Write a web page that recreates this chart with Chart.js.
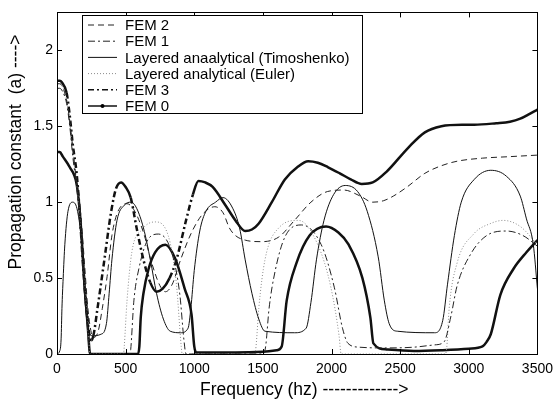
<!DOCTYPE html>
<html>
<head>
<meta charset="utf-8">
<script src="https://cdn.jsdelivr.net/npm/chart.js@4.4.1/dist/chart.umd.min.js"></script>
<style>
  html, body { margin: 0; padding: 0; background: #fff; }
  #graph-container { width: 560px; height: 402px; }
</style>
</head>
<body>
<div id="graph-container"><canvas id="graph" width="560" height="402"></canvas></div>
<script>
// values: frequency (hz) -> propagation constant
const fem2Freq = [0, 20, 45, 80, 110, 140, 175, 200, 225, 250, 270, 300, 330, 365, 400, 440, 510, 560, 630, 690, 750, 790, 840, 900, 980, 1060, 1150, 1210, 1256, 1300, 1371, 1490, 1615, 1730, 1850, 1970, 2090, 2210, 2300, 2380, 2450, 2550, 2680, 2800, 2916, 3100, 3300, 3500]
const fem2Val = [1.78, 1.78, 1.75, 1.62, 1.40, 1.15, 0.90, 0.60, 0.30, 0.14, 0.11, 0.15, 0.30, 0.51, 0.78, 0.93, 0.99, 0.95, 0.80, 0.60, 0.45, 0.41, 0.46, 0.62, 0.80, 0.92, 0.97, 0.93, 0.83, 0.78, 0.75, 0.74, 0.77, 0.88, 1.00, 1.07, 1.08, 1.04, 1.00, 1.01, 1.04, 1.10, 1.19, 1.24, 1.27, 1.29, 1.30, 1.31]

const fem1Freq = [0, 20, 40, 70, 93, 115, 143, 165, 187, 215, 235, 245, 530, 537, 560, 596, 667, 740, 835, 895, 925, 940, 1500, 1520, 1545, 1590, 1660, 1780, 1925, 2020, 2080, 2120, 2200, 2400, 2600, 2750, 2820, 2870, 2915, 3015, 3130, 3275, 3395, 3500]
const fem1Val = [1.75, 1.75, 1.73, 1.65, 1.50, 1.30, 1.10, 0.90, 0.60, 0.25, 0.03, 0, 0, 0.03, 0.35, 0.56, 0.76, 0.79, 0.67, 0.39, 0.09, 0, 0, 0.05, 0.30, 0.55, 0.77, 0.85, 0.72, 0.44, 0.17, 0.07, 0.045, 0.04, 0.045, 0.06, 0.08, 0.25, 0.45, 0.66, 0.78, 0.81, 0.78, 0.71]

const timoFreq = [0, 20, 30, 36, 45, 57, 80, 115, 150, 180, 200, 222, 260, 320, 360, 380, 400, 437, 490, 540, 580, 630, 680, 725, 775, 825, 900, 955, 975, 1000, 1040, 1085, 1155, 1210, 1280, 1330, 1371, 1420, 1470, 1515, 1730, 1815, 1850, 1890, 1945, 2015, 2100, 2190, 2260, 2340, 2385, 2420, 2480, 2750, 2810, 2845, 2895, 2945, 3040, 3160, 3275, 3375, 3420, 3470, 3500]
const timoVal = [0, 0.02, 0.10, 0.30, 0.50, 0.72, 0.94, 1.00, 0.94, 0.72, 0.40, 0.19, 0.12, 0.13, 0.20, 0.40, 0.62, 0.88, 0.98, 1.00, 0.96, 0.83, 0.62, 0.40, 0.23, 0.15, 0.14, 0.17, 0.30, 0.55, 0.81, 0.94, 1.00, 1.03, 0.96, 0.83, 0.62, 0.40, 0.23, 0.15, 0.14, 0.17, 0.34, 0.62, 0.88, 1.05, 1.11, 1.07, 0.94, 0.64, 0.35, 0.20, 0.15, 0.14, 0.22, 0.46, 0.78, 1.00, 1.15, 1.21, 1.17, 1.04, 0.89, 0.72, 0.43]

const eulerFreq = [0, 20, 40, 70, 93, 115, 143, 165, 187, 215, 232, 240, 485, 490, 510, 545, 620, 715, 810, 870, 905, 912, 1440, 1450, 1470, 1515, 1615, 1760, 1900, 1995, 2055, 2070, 2830, 2840, 2857, 2915, 3035, 3160, 3250, 3375, 3500]
const eulerVal = [1.78, 1.78, 1.76, 1.68, 1.53, 1.33, 1.12, 0.92, 0.62, 0.28, 0.08, 0, 0, 0.05, 0.35, 0.67, 0.82, 0.87, 0.78, 0.46, 0.05, 0, 0, 0.05, 0.30, 0.62, 0.83, 0.88, 0.72, 0.44, 0.12, 0, 0, 0.05, 0.30, 0.60, 0.79, 0.86, 0.88, 0.84, 0.72]

const fem3Freq = [0, 20, 35, 70, 93, 115, 143, 165, 187, 215, 237, 250, 265, 295, 345, 395, 430, 467, 500, 537, 580, 630, 680, 725, 770, 820, 870, 940, 990, 1030, 1080, 1134, 1227, 1300, 1371, 1420, 1470, 1565, 1660, 1750, 1830, 1900, 1975, 2060, 2140, 2220, 2300, 2400, 2560, 2680, 2800, 2950, 3040, 3200, 3300, 3375, 3440, 3500]
const fem3Val = [1.80, 1.80, 1.79, 1.72, 1.57, 1.38, 1.19, 0.94, 0.62, 0.30, 0.12, 0.09, 0.12, 0.30, 0.62, 0.94, 1.09, 1.13, 1.10, 1.03, 0.83, 0.62, 0.47, 0.41, 0.43, 0.50, 0.62, 0.88, 1.05, 1.14, 1.13, 1.10, 0.98, 0.88, 0.81, 0.82, 0.86, 1.00, 1.15, 1.23, 1.27, 1.26, 1.23, 1.19, 1.15, 1.12, 1.13, 1.20, 1.36, 1.46, 1.50, 1.51, 1.51, 1.52, 1.53, 1.55, 1.58, 1.61]

const fem0Freq = [0, 20, 43, 93, 143, 165, 180, 200, 225, 237, 245, 590, 600, 610, 630, 667, 715, 790, 860, 930, 980, 1000, 1015, 1300, 1500, 1600, 1637, 1673, 1745, 1840, 1960, 2050, 2125, 2225, 2283, 2305, 2400, 2600, 2800, 3000, 3100, 3130, 3160, 3230, 3325, 3420, 3500]
const fem0Val = [1.33, 1.33, 1.30, 1.23, 1.12, 0.95, 0.76, 0.46, 0.17, 0.02, 0, 0, 0.05, 0.24, 0.40, 0.56, 0.67, 0.72, 0.63, 0.43, 0.26, 0.05, 0.01, 0.01, 0.015, 0.025, 0.05, 0.35, 0.60, 0.78, 0.84, 0.80, 0.72, 0.50, 0.24, 0.07, 0.03, 0.02, 0.025, 0.035, 0.05, 0.08, 0.13, 0.39, 0.56, 0.67, 0.75]

const xTicks = [0, 500, 1000, 1500, 2000, 2500, 3000, 3500]
const yTicks = [0, 0.5, 1, 1.5, 2]

function toPoints(freq, vals) {
  return freq.map((f, i) => ({ x: f, y: vals[i] }))
}

Chart.defaults.font.family = '"Liberation Sans", Arial, sans-serif'
Chart.defaults.color = '#000'

// matlab style box with ticks pointing inwards
const frame = {
  id: 'frame',
  afterDatasetsDraw(chart) {
    const { ctx, chartArea: a, scales } = chart
    ctx.save()
    ctx.strokeStyle = '#000'
    ctx.lineWidth = 1
    ctx.beginPath()
    xTicks.forEach(v => {
      const px = Math.round(scales.x.getPixelForValue(v)) + 0.5
      ctx.moveTo(px, a.bottom); ctx.lineTo(px, a.bottom - 5)
      ctx.moveTo(px, a.top); ctx.lineTo(px, a.top + 5)
    })
    yTicks.forEach(v => {
      const py = Math.round(scales.y.getPixelForValue(v)) + 0.5
      ctx.moveTo(a.left, py); ctx.lineTo(a.left + 5, py)
      ctx.moveTo(a.right, py); ctx.lineTo(a.right - 5, py)
    })
    ctx.stroke()
    ctx.strokeRect(Math.round(a.left) + 0.5, Math.round(a.top) + 0.5, Math.round(a.right - a.left), Math.round(a.bottom - a.top))
    ctx.restore()
  },
  afterDraw(chart) {
    const ctx = chart.ctx
    // legend box
    const x0 = 82, y0 = 15, w = 280, h = 98
    ctx.save()
    ctx.fillStyle = '#fff'
    ctx.fillRect(x0, y0, w, h)
    ctx.strokeStyle = '#000'
    ctx.lineWidth = 1
    ctx.strokeRect(x0 + 0.5, y0 + 0.5, w, h)
    ctx.font = '15px "Liberation Sans", Arial, sans-serif'
    ctx.textBaseline = 'middle'
    chart.data.datasets.forEach((ds, i) => {
      const yy = y0 + 10 + i * 16.2
      ctx.strokeStyle = ds.borderColor
      ctx.lineWidth = ds.legendWidth || ds.borderWidth
      ctx.setLineDash(ds.borderDash || [])
      ctx.beginPath()
      ctx.moveTo(88, yy)
      ctx.lineTo(117, yy)
      ctx.stroke()
      ctx.setLineDash([])
      if (ds.legendDot) {
        ctx.fillStyle = '#000'
        ctx.beginPath()
        ctx.arc(102.5, yy, 2, 0, Math.PI * 2)
        ctx.fill()
      }
      ctx.fillStyle = '#000'
      ctx.fillText(ds.label, 125, yy + 1)
    })
    // axis titles
    ctx.font = '17.5px "Liberation Sans", Arial, sans-serif'
    ctx.textBaseline = 'alphabetic'
    ctx.textAlign = 'left'
    ctx.fillText('Frequency (hz) ------------->', 200, 395)
    ctx.translate(21, 152)
    ctx.rotate(-Math.PI / 2)
    ctx.textAlign = 'center'
    ctx.fillText('Propagation constant  (a) ---->', 0, 0)
    ctx.restore()
  }
}

const steepDash = ctx => Math.abs(ctx.p1.y - ctx.p0.y) > 2.5 * Math.abs(ctx.p1.x - ctx.p0.x) ? undefined : []

let graph_data = {
  type: 'line',
  data: {
    datasets: [
      { label: 'FEM 2', data: toPoints(fem2Freq, fem2Val), borderColor: '#222', borderWidth: 1, borderDash: [6, 4] },
      { label: 'FEM 1', data: toPoints(fem1Freq, fem1Val), borderColor: '#222', borderWidth: 1, borderDash: [7, 3, 2, 3] },
      { label: 'Layered anaalytical (Timoshenko)', data: toPoints(timoFreq, timoVal), borderColor: '#111', borderWidth: 1 },
      { label: 'Layered analytical (Euler)', data: toPoints(eulerFreq, eulerVal), borderColor: '#8c8c8c', borderWidth: 1, borderDash: [1, 2] },
      { label: 'FEM 3', data: toPoints(fem3Freq, fem3Val), borderColor: '#111', borderWidth: 2.5, legendWidth: 1.5, borderDash: [6, 3, 2, 3], segment: { borderDash: steepDash } },
      { label: 'FEM 0', data: toPoints(fem0Freq, fem0Val), borderColor: '#111', borderWidth: 2.5, legendWidth: 1.5, legendDot: true }
    ]
  },
  options: {
    responsive: false,
    animation: false,
    devicePixelRatio: 1,
    layout: { padding: { top: 5, right: 15, left: 0, bottom: 0 } },
    elements: {
      point: { radius: 0 },
      line: { cubicInterpolationMode: 'monotone', fill: false }
    },
    plugins: { legend: { display: false }, tooltip: { enabled: false } },
    scales: {
      x: {
        type: 'linear', min: 0, max: 3500,
        grid: { display: false, drawTicks: false },
        border: { display: false },
        afterFit: s => { s.height = 48 },
        afterBuildTicks: s => { s.ticks = xTicks.map(v => ({ value: v })) },
        ticks: { padding: 7, font: { size: 14 }, maxRotation: 0, callback: v => String(v) }
      },
      y: {
        type: 'linear', min: 0, max: 2.25,
        grid: { display: false, drawTicks: false },
        border: { display: false },
        afterFit: s => { s.width = 57 },
        afterBuildTicks: s => { s.ticks = yTicks.map(v => ({ value: v })) },
        ticks: { padding: 4, font: { size: 14 }, callback: v => String(v) }
      }
    }
  },
  plugins: [frame]
}

let graph = new Chart(document.getElementById('graph').getContext('2d'), graph_data)
</script>
</body>
</html>
